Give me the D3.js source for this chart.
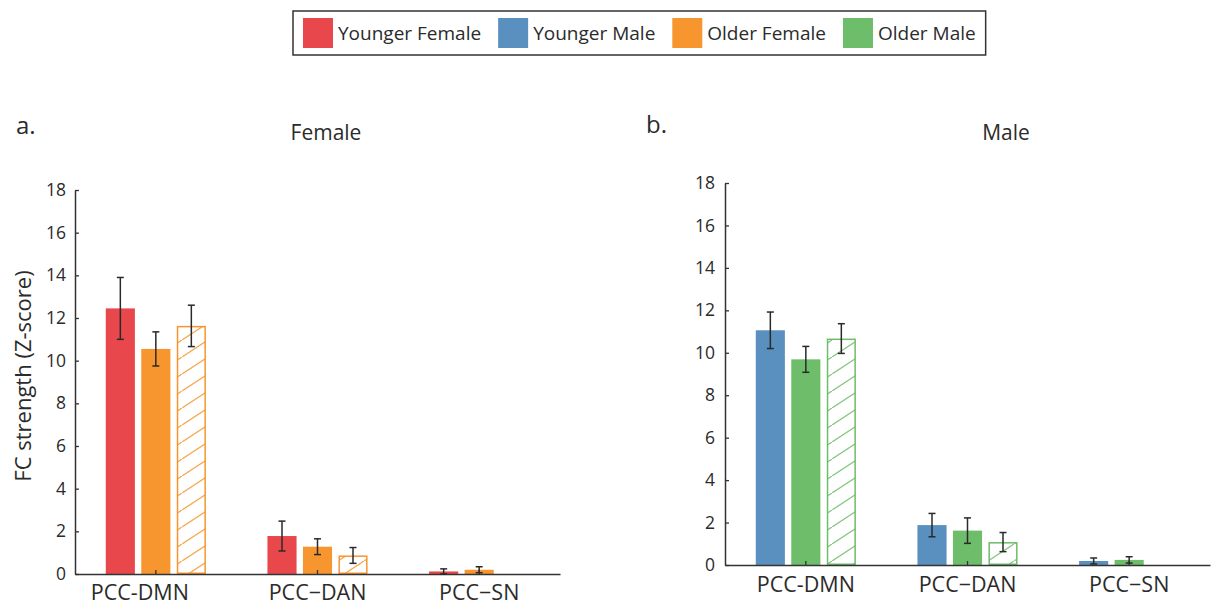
<!DOCTYPE html>
<html>
<head>
<meta charset="utf-8">
<script src="https://cdn.jsdelivr.net/npm/d3@7"></script>
<style>
  html, body { margin: 0; padding: 0; background: #fff; }
  svg { display: block; font-family: "Open Sans", "Noto Sans", sans-serif; }
  text { fill: #2b2b2b; }
</style>
</head>
<body>
<svg id="chart" width="1211" height="607"></svg>
<script>
// Connection pairs on the x axis
const categories = ["PCC-DMN", "PCC\u2212DAN", "PCC\u2212SN"];

// Y axis ticks (FC strength, Z-score)
const yTicks = [0, 2, 4, 6, 8, 10, 12, 14, 16, 18];

// Legend entries
const legendLabels = ["Younger Female", "Younger Male", "Older Female", "Older Male"];
const legendColors = ["#e8474c", "#5a90c0", "#f7962f", "#6dbd6a"];

// Female panel: means and error half-widths per connection
const femaleYoungerMean = [12.45, 1.78, 0.12];
const femaleYoungerErr  = [1.45, 0.70, 0.12];
const femaleOlderMean   = [10.55, 1.28, 0.20];
const femaleOlderErr    = [0.80, 0.37, 0.14];
const femaleOlderHatchMean = [11.63, 0.87, null];
const femaleOlderHatchErr  = [0.97, 0.37, null];

// Male panel: means and error half-widths per connection
const maleYoungerMean = [11.06, 1.88, 0.19];
const maleYoungerErr  = [0.86, 0.55, 0.14];
const maleOlderMean   = [9.69, 1.62, 0.24];
const maleOlderErr    = [0.61, 0.60, 0.15];
const maleOlderHatchMean = [10.67, 1.08, null];
const maleOlderHatchErr  = [0.70, 0.45, null];

const seriesKeys = ["younger", "older", "olderHatch"];

const svg = d3.select("#chart");
const defs = svg.append("defs");

// Diagonal hatching for the outlined bars
function hatch(id, color) {
  const w = 26, h = 17;
  const p = defs.append("pattern")
    .attr("id", id)
    .attr("patternUnits", "userSpaceOnUse")
    .attr("width", w).attr("height", h);
  p.append("path")
    .attr("d", `M0,${h} L${w},0 M${-w},${2*h} L0,${h} M${w},0 L${2*w},${-h}`)
    .attr("stroke", color)
    .attr("stroke-width", 1.3)
    .attr("stroke-opacity", 0.85)
    .attr("fill", "none");
}
hatch("hatch-orange", "#f7962f");
hatch("hatch-green", "#6dbd6a");

const panels = [
  {
    label: "a.", title: "Female",
    x: [75, 560], y: [574, 190],
    labelPos: [16, 134], titlePos: [326, 140],
    tickPad: 9, xPad: 11, firstLabelShift: -16,
    series: [
      { key: "younger", mean: femaleYoungerMean, err: femaleYoungerErr, color: "#e8474c" },
      { key: "older", mean: femaleOlderMean, err: femaleOlderErr, color: "#f7962f" },
      { key: "olderHatch", mean: femaleOlderHatchMean, err: femaleOlderHatchErr, color: "#f7962f", pattern: "hatch-orange" }
    ]
  },
  {
    label: "b.", title: "Male",
    x: [725, 1210], y: [565, 183],
    labelPos: [646, 133], titlePos: [1006, 140],
    tickPad: 10, xPad: 12, firstLabelShift: 0,
    series: [
      { key: "younger", mean: maleYoungerMean, err: maleYoungerErr, color: "#5a90c0" },
      { key: "older", mean: maleOlderMean, err: maleOlderErr, color: "#6dbd6a" },
      { key: "olderHatch", mean: maleOlderHatchMean, err: maleOlderHatchErr, color: "#6dbd6a", pattern: "hatch-green" }
    ]
  }
];

panels.forEach(pn => {
  const x0 = d3.scaleBand().domain(categories).range(pn.x).padding(0);
  const half = 53.25;
  const x1 = d3.scaleBand().domain(seriesKeys).range([-half, half])
    .paddingInner(0.18).paddingOuter(0.09);
  const y = d3.scaleLinear().domain([0, 18]).range(pn.y);

  const g = svg.append("g");

  // Bars
  pn.series.forEach(s => {
    categories.forEach((c, i) => {
      const v = s.mean[i];
      if (v == null) return;
      const cx = x0(c) + x0.bandwidth() / 2;
      const bx = cx + x1(s.key);
      const bw = x1.bandwidth();
      if (s.pattern) {
        g.append("rect")
          .attr("x", bx + 0.75).attr("y", y(v) + 0.75)
          .attr("width", bw - 1.5).attr("height", Math.max(0, y(0) - y(v) - 1.5))
          .attr("fill", `url(#${s.pattern})`)
          .attr("stroke", s.color).attr("stroke-width", 1.5);
      } else {
        g.append("rect")
          .attr("x", bx).attr("y", y(v))
          .attr("width", bw).attr("height", y(0) - y(v))
          .attr("fill", s.color);
      }
    });
  });

  // Axes (ticks point inward)
  const yAxis = d3.axisLeft(y).tickValues(yTicks).tickFormat(d3.format("d"))
    .tickSizeInner(-4).tickSizeOuter(0).tickPadding(pn.tickPad);
  const ya = g.append("g").attr("transform", `translate(${pn.x[0]},0)`).call(yAxis);
  ya.selectAll("text").style("font-size", "17.5px").style("font-family", "'Open Sans', sans-serif");

  const xAxis = d3.axisBottom(x0).tickSizeInner(-4).tickSizeOuter(0).tickPadding(pn.xPad);
  const xa = g.append("g").attr("transform", `translate(0,${pn.y[0]})`).call(xAxis);
  xa.selectAll("text").style("font-size", "21.5px").style("font-family", "'Open Sans', sans-serif")
    .attr("dx", (d, i) => i === 0 ? pn.firstLabelShift : 0);

  [ya, xa].forEach(a => {
    a.select(".domain").attr("stroke", "#333").attr("stroke-width", 1.5);
    a.selectAll(".tick line").attr("stroke", "#333").attr("stroke-width", 1.3);
    a.selectAll(".tick text").attr("fill", "#2b2b2b");
  });

  // Error bars
  pn.series.forEach(s => {
    categories.forEach((c, i) => {
      const v = s.mean[i], e = s.err[i];
      if (v == null || e == null) return;
      const cx = x0(c) + x0.bandwidth() / 2 + x1(s.key) + x1.bandwidth() / 2;
      const lo = Math.max(0, v - e), hi = v + e;
      const eg = g.append("g").attr("stroke", "#2a2a2a").attr("stroke-width", 1.5);
      eg.append("line").attr("x1", cx).attr("x2", cx).attr("y1", y(lo)).attr("y2", y(hi));
      eg.append("line").attr("x1", cx - 3.5).attr("x2", cx + 3.5).attr("y1", y(hi)).attr("y2", y(hi));
      eg.append("line").attr("x1", cx - 3.5).attr("x2", cx + 3.5).attr("y1", y(lo)).attr("y2", y(lo));
    });
  });

  // Panel letter and title
  svg.append("text").attr("x", pn.labelPos[0]).attr("y", pn.labelPos[1])
    .style("font-size", "24px").text(pn.label);
  svg.append("text").attr("x", pn.titlePos[0]).attr("y", pn.titlePos[1])
    .attr("text-anchor", "middle").style("font-size", "21px").text(pn.title);
});

// Y axis title
svg.append("text")
  .attr("transform", "translate(31,376) rotate(-90)")
  .attr("text-anchor", "middle")
  .style("font-size", "22px")
  .text("FC strength (Z-score)");

// Legend
const lg = svg.append("g");
const box = lg.append("rect")
  .attr("x", 293).attr("y", 11).attr("width", 695).attr("height", 44)
  .attr("fill", "#fff").attr("stroke", "#333").attr("stroke-width", 1.5);
let lx = 303;
legendLabels.forEach((lab, i) => {
  lg.append("rect").attr("x", lx).attr("y", 18).attr("width", 30).attr("height", 30)
    .attr("fill", legendColors[i]);
  const t = lg.append("text").attr("x", lx + 35).attr("y", 40)
    .style("font-size", "19px").text(lab);
  lx += 35 + t.node().getComputedTextLength() + 17;
});
box.attr("width", lx - 17 + 10 - 293);
</script>
</body>
</html>
